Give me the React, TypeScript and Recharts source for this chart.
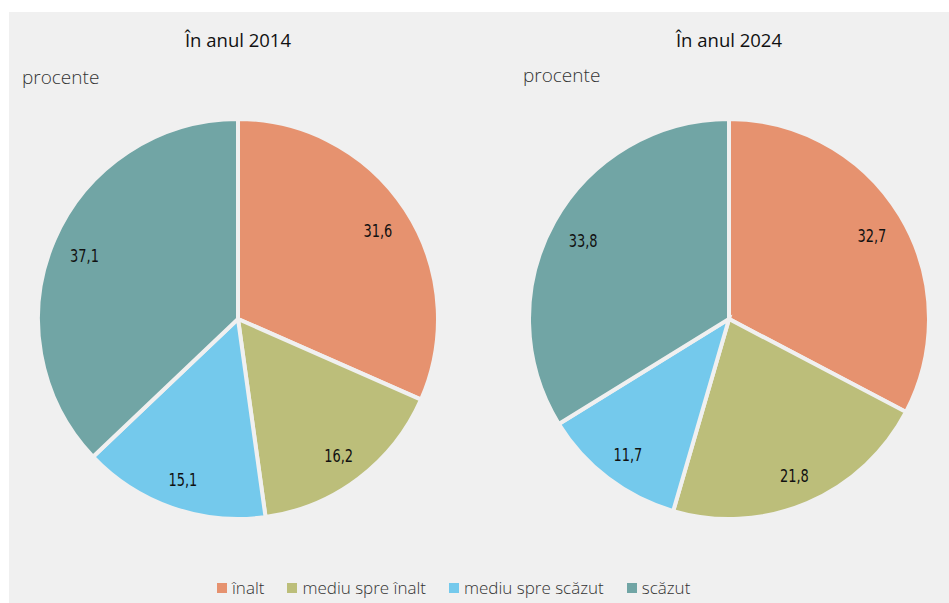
import { Pie, PieChart, Cell } from "recharts"

const CATEGORIES = ["înalt", "mediu spre înalt", "mediu spre scăzut", "scăzut"]
const VALUES_2014 = [31.6, 16.2, 15.1, 37.1]
const VALUES_2024 = [32.7, 21.8, 11.7, 33.8]
const TITLES = ["În anul 2014", "În anul 2024"]
const UNIT = "procente"

const COLORS = ["#e6926f", "#bcbe7a", "#74c9ec", "#71a5a5"]
const BG = "#f0f0f0"
const TEXT_FONT = "'Open Sans', 'Noto Sans', sans-serif"
const LABEL_FONT = "'DejaVu Sans', sans-serif"
const RAD = Math.PI / 180

const WIDTH = 940
const HEIGHT = 591
// pie centres in chart coords (chart margin of 5 is added by recharts)
const LEFT_CX = 224
const RIGHT_CX = 715
const CY = 302
const OUTER = 200

const toRows = (values: number[]) => CATEGORIES.map((name, i) => ({ name, value: values[i] }))

const renderLabel = (props: any) => {
  const { cx, cy, midAngle, value } = props
  const r = 167
  const x = cx + r * Math.cos(-midAngle * RAD)
  const y = cy + r * Math.sin(-midAngle * RAD) + 3
  return (
    <text
      x={x}
      y={y}
      textAnchor="middle"
      dominantBaseline="central"
      fill="#111"
      fontFamily={LABEL_FONT}
      fontWeight={400}
      fontSize={18}
      transform={`translate(${x} ${y}) scale(0.72 1) translate(${-x} ${-y})`}
    >
      {String(value).replace(".", ",")}
    </text>
  )
}

export default function App() {
  return (
    <div
      style={{
        position: "absolute",
        left: 9,
        top: 12,
        width: WIDTH,
        height: HEIGHT,
        background: BG,
        fontFamily: TEXT_FONT,
      }}
    >
      {[LEFT_CX + 5, RIGHT_CX + 5].map((cx, i) => (
        <div
          key={TITLES[i]}
          style={{
            position: "absolute",
            left: cx - 100,
            width: 200,
            top: 15,
            textAlign: "center",
            fontSize: 18.5,
            color: "#111",
          }}
        >
          {TITLES[i]}
        </div>
      ))}
      <div style={{ position: "absolute", left: 13, top: 52, fontSize: 19, fontWeight: 300, color: "#333" }}>
        {UNIT}
      </div>
      <div style={{ position: "absolute", left: 514, top: 50, fontSize: 19, fontWeight: 300, color: "#333" }}>
        {UNIT}
      </div>
      <PieChart width={WIDTH} height={HEIGHT} style={{ position: "absolute", left: 0, top: 0 }}>
        {[VALUES_2014, VALUES_2024].map((values, i) => (
          <Pie
            key={TITLES[i]}
            data={toRows(values)}
            dataKey="value"
            nameKey="name"
            cx={i === 0 ? LEFT_CX : RIGHT_CX}
            cy={CY}
            outerRadius={OUTER}
            startAngle={90}
            endAngle={-270}
            stroke={BG}
            strokeWidth={4}
            label={renderLabel}
            labelLine={false}
            isAnimationActive={false}
          >
            {values.map((_, j) => (
              <Cell key={j} fill={COLORS[j]} />
            ))}
          </Pie>
        ))}
      </PieChart>
      <div
        style={{
          position: "absolute",
          left: 208,
          top: 564,
          display: "flex",
          gap: 23,
          fontSize: 17,
          color: "#333",
          fontWeight: 300,
        }}
      >
        {CATEGORIES.map((c, i) => (
          <div key={c} style={{ display: "flex", alignItems: "center", gap: 5 }}>
            <span style={{ width: 10, height: 10, background: COLORS[i], display: "inline-block" }} />
            <span>{c}</span>
          </div>
        ))}
      </div>
    </div>
  )
}
